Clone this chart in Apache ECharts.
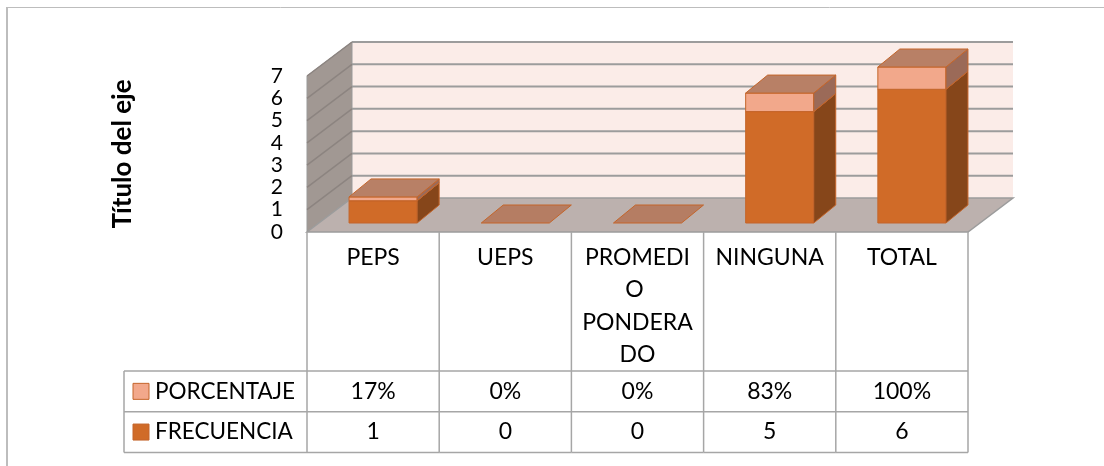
<!DOCTYPE html>
<html lang="es">
<head>
<meta charset="utf-8" />
<title>Frecuencia / Porcentaje</title>
<script src="https://cdn.jsdelivr.net/npm/echarts@6/dist/echarts.min.js"></script>
<style>
  html, body { margin: 0; padding: 0; background: #fff; }
  #chart { width: 1104px; height: 466px; }
</style>
</head>
<body>
<div id="chart"></div>
<script type="text/javascript">
// data
var CATS = ['PEPS', 'UEPS', 'PROMEDIO PONDERADO', 'NINGUNA', 'TOTAL'];
var FRECUENCIA = [1, 0, 0, 5, 6];
var PORCENTAJE = [0.17, 0, 0, 0.83, 1];
var SERIES_NAMES = ['PORCENTAJE', 'FRECUENCIA'];
var Y_MAX = 7;

// look of the 3d box and table
var FONT = 'Lato, "Open Sans", sans-serif';
var WALL = { dx: 45, dy: -34 };
var BAR = { ox: 10, oy: -9, dx: 22, dy: -18, ratio: 0.515 };
var TABLE = { catH: 139, rowH: 40.7, legendW: 183, line: '#A6A6A6' };
var COLORS = {
  FRECUENCIA: { front: '#D06B28', side: '#86461A', top: '#B57D63', stroke: '#C4652A' },
  PORCENTAJE: { front: '#F2A88B', side: '#9B6A58', top: '#B88066', stroke: '#C4652A' }
};

var chart = echarts.init(document.getElementById('chart'));

function renderBox(params, api) {
  var cs = params.coordSys;
  var x0 = cs.x, x1 = cs.x + cs.width;
  var yb = cs.y + cs.height;
  var dx = WALL.dx, dy = WALL.dy;
  var kids = [];
  // back wall
  kids.push({ type: 'rect', shape: { x: x0 + dx, y: cs.y + dy, width: cs.width, height: cs.height },
    style: { fill: '#FBECE8' } });
  // left wall
  kids.push({ type: 'polygon', shape: { points: [[x0, cs.y], [x0 + dx, cs.y + dy], [x0 + dx, yb + dy], [x0, yb]] },
    style: { fill: '#A19893', stroke: '#999', lineWidth: 1 } });
  for (var v = 1; v <= Y_MAX; v++) {
    var y = api.coord([0, v])[1];
    kids.push({ type: 'line', shape: { x1: x0 + dx, y1: y + dy, x2: x1 + dx, y2: y + dy },
      style: { stroke: '#9C9C9C', lineWidth: 2 } });
    kids.push({ type: 'line', shape: { x1: x0, y1: y, x2: x0 + dx, y2: y + dy },
      style: { stroke: '#8C8480', lineWidth: 1.5 } });
  }
  // floor
  kids.push({ type: 'polygon', shape: { points: [[x0, yb], [x0 + dx, yb + dy], [x1 + dx, yb + dy], [x1, yb]] },
    style: { fill: '#BCB1AE', stroke: '#9C9C9C', lineWidth: 1.5 } });
  return { type: 'group', children: kids };
}

function renderBar(col, skipEmpty) {
  return function (params, api) {
    var i = api.value(0), lo = api.value(1), hi = api.value(2);
    if (skipEmpty && hi === lo) return null;
    var pb = api.coord([i, lo]);
    var pt = api.coord([i, hi]);
    var bw = api.size([1, 0])[0] * BAR.ratio;
    var x0 = pb[0] - bw / 2 + BAR.ox, x1 = x0 + bw;
    var yb = pb[1] + BAR.oy, yt = pt[1] + BAR.oy;
    var dx = BAR.dx, dy = BAR.dy;
    var kids = [];
    if (hi > lo) {
      kids.push({ type: 'rect', shape: { x: x0, y: yt, width: bw, height: yb - yt },
        style: { fill: col.front, stroke: col.stroke, lineWidth: 1 } });
      kids.push({ type: 'polygon', shape: { points: [[x1, yb], [x1 + dx, yb + dy], [x1 + dx, yt + dy], [x1, yt]] },
        style: { fill: col.side, stroke: col.stroke, lineWidth: 1 } });
    }
    kids.push({ type: 'polygon', shape: { points: [[x0, yt], [x0 + dx, yt + dy], [x1 + dx, yt + dy], [x1, yt]] },
      style: { fill: col.top, stroke: col.stroke, lineWidth: 1 } });
    return { type: 'group', children: kids };
  };
}

function pct(v) { return Math.round(v * 100) + '%'; }

function renderTable(params, api) {
  var i = api.value(0);
  var c = api.coord([i, 0]);
  var bw = api.size([1, 0])[0];
  var xl = c[0] - bw / 2, xr = c[0] + bw / 2;
  var y0 = c[1], y1 = y0 + TABLE.catH, y2 = y1 + TABLE.rowH, y3 = y2 + TABLE.rowH;
  var ln = { stroke: TABLE.line, lineWidth: 1.5 };
  var txt = { fill: '#000', fontFamily: FONT, fontSize: 23, align: 'center', verticalAlign: 'middle' };
  var kids = [];
  kids.push({ type: 'line', shape: { x1: xl, y1: y0, x2: xl, y2: y3 }, style: ln });
  if (i === CATS.length - 1) {
    kids.push({ type: 'line', shape: { x1: xr, y1: y0, x2: xr, y2: y3 }, style: ln });
  }
  var left = i === 0 ? xl - TABLE.legendW : xl;
  [y1, y2, y3].forEach(function (y) {
    kids.push({ type: 'line', shape: { x1: left, y1: y, x2: xr, y2: y }, style: ln });
  });
  kids.push({ type: 'text', style: Object.assign({}, txt, {
    text: CATS[i], x: c[0], y: y0 + 9, verticalAlign: 'top', width: 112, overflow: 'break', lineHeight: 32.5 }) });
  kids.push({ type: 'text', style: Object.assign({}, txt, { text: pct(PORCENTAJE[i]), x: c[0], y: (y1 + y2) / 2 }) });
  kids.push({ type: 'text', style: Object.assign({}, txt, { text: String(FRECUENCIA[i]), x: c[0], y: (y2 + y3) / 2 }) });
  if (i === 0) {
    var lx = xl - TABLE.legendW;
    kids.push({ type: 'line', shape: { x1: lx, y1: y1, x2: lx, y2: y3 }, style: ln });
    SERIES_NAMES.forEach(function (name, k) {
      var cy = k === 0 ? (y1 + y2) / 2 : (y2 + y3) / 2;
      kids.push({ type: 'rect', shape: { x: lx + 9, y: cy - 8, width: 16, height: 16 },
        style: { fill: COLORS[name].front, stroke: COLORS[name].stroke, lineWidth: 1 } });
      kids.push({ type: 'text', style: Object.assign({}, txt, {
        text: name, x: lx + 31, y: cy, align: 'left', fontSize: 22.5 }) });
    });
  }
  return { type: 'group', children: kids };
}

var option = {
  animation: false,
  backgroundColor: '#fff',
  grid: { left: 307, top: 76, width: 661, height: 156, containLabel: false },
  xAxis: { type: 'category', data: CATS, show: false },
  yAxis: {
    type: 'value', min: 0, max: Y_MAX, interval: 1,
    name: 'Título del eje', nameLocation: 'middle', nameGap: 171, nameRotate: 90,
    nameTextStyle: { fontFamily: FONT, fontWeight: 'bold', fontSize: 26, color: '#000' },
    axisLine: { show: false }, axisTick: { show: false }, splitLine: { show: false },
    axisLabel: { fontFamily: FONT, fontSize: 21, color: '#000', margin: 24 }
  },
  graphic: [
    { type: 'line', shape: { x1: 7, y1: 7, x2: 7, y2: 466 }, style: { stroke: '#BDBDBD', lineWidth: 2 } },
    { type: 'line', shape: { x1: 6, y1: 7.5, x2: 1104, y2: 7.5 }, style: { stroke: '#BDBDBD', lineWidth: 1 } }
  ],
  series: [
    { type: 'custom', name: 'box', z: 1, data: [[0]], renderItem: renderBox, silent: true },
    { type: 'custom', name: 'FRECUENCIA', z: 2,
      data: FRECUENCIA.map(function (v, i) { return [i, 0, v]; }),
      renderItem: renderBar(COLORS.FRECUENCIA, false) },
    { type: 'custom', name: 'PORCENTAJE', z: 3,
      data: PORCENTAJE.map(function (v, i) { return [i, FRECUENCIA[i], FRECUENCIA[i] + v]; }),
      renderItem: renderBar(COLORS.PORCENTAJE, true) },
    { type: 'custom', name: 'table', z: 2, silent: true,
      data: CATS.map(function (c, i) { return [i]; }),
      renderItem: renderTable }
  ]
};
chart.setOption(option);
</script>
</body>
</html>
